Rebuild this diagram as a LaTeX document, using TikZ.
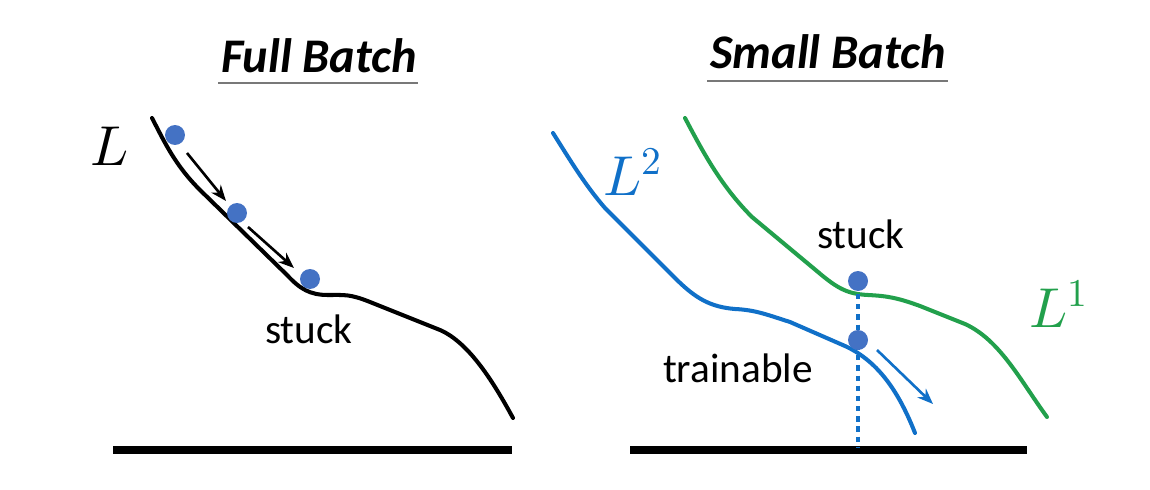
\documentclass[tikz,border=0pt]{standalone}
\usepackage{fontspec}
\usepackage{unicode-math}
\setmainfont{Carlito}
\setmathfont{Latin Modern Math}
\usetikzlibrary{arrows.meta}
\definecolor{ballc}{RGB}{68,114,196}
\definecolor{lblue}{RGB}{16,112,200}
\definecolor{lgreen}{RGB}{34,160,76}
\definecolor{ulgray}{RGB}{120,120,120}
\tikzset{
  ball/.style={circle,fill=ballc,inner sep=0pt,minimum size=0.4cm},
  curve/.style={line width=2.3pt,line cap=round,line join=round},
  ground/.style={line width=4pt,black},
  title/.style={font=\fontsize{27.5}{30}\selectfont\bfseries\itshape,anchor=base,inner sep=0pt},
  lab/.style={font=\fontsize{23.5}{26}\selectfont,anchor=base,inner sep=0pt},
  mlab/.style={font=\fontsize{32}{34}\selectfont,anchor=base west,inner sep=0pt},
  uline/.style={line width=1pt,ulgray},
  movearrow/.style={line width=1.5pt,-{Stealth[length=9pt,width=7pt]}}
}
\begin{document}
\begin{tikzpicture}[x=0.02cm,y=-0.02cm]
\useasboundingbox (0,0) rectangle (1150,490);
% titles
\node[title] (t1) at (319,72) {Full Batch};
\node[title] (t2) at (828,69) {Small Batch};
\coordinate (u1a) at (218,83); \coordinate (u1b) at (418,83);
\coordinate (u2a) at (707,81); \coordinate (u2b) at (948,81);
\draw[uline] (u1a) -- (u1b);
\draw[uline] (u2a) -- (u2b);
% grounds
\coordinate (g1a) at (113,450); \coordinate (g1b) at (512,450);
\coordinate (g2a) at (630,450); \coordinate (g2b) at (1027,450);
\draw[ground] (g1a) -- (g1b);
\draw[ground] (g2a) -- (g2b);
% left curve
\draw[curve,black] (152,118) .. controls (165,143) and (175,165) .. (200,190)
  -- (287,275) .. controls (300,289) and (310,295) .. (328,295)
  .. controls (345,295) and (350,294) .. (370,302) -- (440,330)
  .. controls (470,343) and (495,385) .. (513,418);
\node[mlab] (L) at (90,165) {$L$};
\node[ball] (b1) at (175,135) {};
\node[ball] (b2) at (237,213) {};
\node[ball] (b3) at (310,279) {};
\coordinate (a1s) at (187,153); \coordinate (a1e) at (226,201);
\coordinate (a2s) at (248,227); \coordinate (a2e) at (294,268);
\draw[movearrow] (a1s) -- (a1e);
\draw[movearrow] (a2s) -- (a2e);
\node[lab] (s1) at (309,343) {stuck};
% right curves
\draw[curve,lgreen] (685,118) .. controls (702,150) and (720,185) .. (752,217)
  -- (818,272) .. controls (838,289) and (848,294) .. (868,295)
  .. controls (888,296) and (898,298) .. (920,306) -- (965,324)
  .. controls (1000,340) and (1020,380) .. (1047,417);
\draw[curve,lblue] (553,133) .. controls (570,160) and (585,185) .. (605,208)
  -- (675,278) .. controls (695,298) and (710,307) .. (735,309)
  .. controls (755,310) and (765,314) .. (790,322) -- (845,346)
  .. controls (880,362) and (900,395) .. (915,433);
\node[mlab,text=lblue] (L2) at (603,195) {$L^2$};
\node[mlab,text=lgreen] (L1) at (1029,327) {$L^1$};
\coordinate (dend) at (858,448);
\coordinate (dstart) at (858,294);
\draw[lblue,line width=2.3pt,dash pattern=on 3pt off 2.8pt] (dstart) -- (dend);
\node[ball] (sb) at (858,281) {};
\node[ball] (tb) at (858,340) {};
\coordinate (bas) at (877,350); \coordinate (bae) at (933,404);
\draw[movearrow,lblue] (bas) -- (bae);
\node[lab] (s2) at (861,248) {stuck};
\node[lab] (tr) at (738,382) {trainable};
\end{tikzpicture}
\end{document}
